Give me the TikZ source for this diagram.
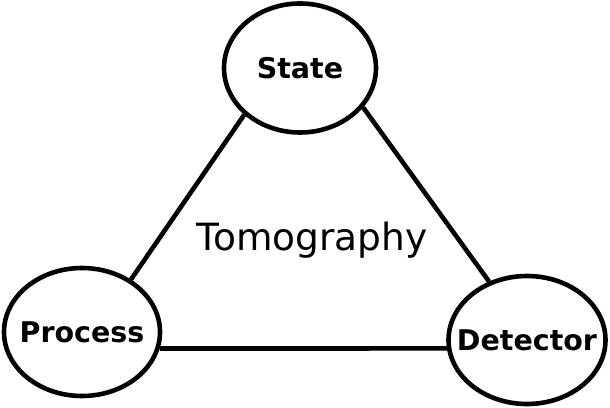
\documentclass[tikz,border=0pt]{standalone}
\usepackage{fontspec}
\setmainfont{DejaVu Sans}
\usetikzlibrary{shapes.geometric}
\tikzstyle{part}=[draw,ellipse,line width=4.6pt,inner sep=0pt,font=\fontsize{28.5}{34}\selectfont\bfseries]
\tikzstyle{link}=[line width=4.6pt]
\newcommand\plab[1]{\makebox[0pt][c]{#1}}

\begin{document}
\begin{tikzpicture}[x=1pt,y=1pt]
	\useasboundingbox (0,0) rectangle (610,407);
	\node[part,minimum width=152pt,minimum height=129pt] (state)    at (300,339) {\plab{State}};
	\node[part,minimum width=156pt,minimum height=128pt] (process)  at (82,75)   {\plab{Process}};
	\node[part,minimum width=157pt,minimum height=128pt] (detector) at (527,67)  {\plab{Detector}};
	\node[font=\fontsize{37.5}{44}\selectfont] (tomo) at (312,167) {Tomography};
	\draw[link] (state.220) -- (process.47);
	\draw[link] (state.328) -- (detector.123);
	\draw[link] (process.348) -- (detector.186);
\end{tikzpicture}
\end{document}
